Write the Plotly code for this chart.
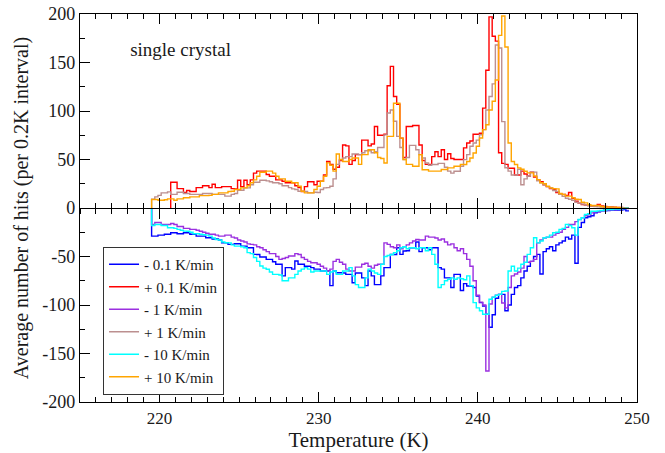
import numpy as np
import plotly.graph_objects as go

# Histogram bins: 0.2 K wide, left edges from 219.5 K to 249.3 K
BIN_START = 219.5
BIN_WIDTH = 0.2

# Average hits per 0.2 K interval (heating rates positive, cooling rates negative)
minus_0p1 = [
    -29, -29, -28, -28, -27,
    -27, -25.5, -25.5, -26.5, -26.5,
    -25.5, -25.5, -27, -27, -29,
    -29, -29, -30.7, -30.7, -32,
    -32, -33, -35.8, -35.8, -37.5,
    -37.5, -36.8, -36.8, -39.3, -39.3,
    -41, -41, -47.8, -48, -50.5,
    -50.5, -53, -53, -55.4, -58,
    -58, -70, -61.5, -61.5, -63,
    -54.7, -58, -58, -60, -60,
    -61.5, -63, -63, -65, -65,
    -65, -80, -65, -66.7, -66.7,
    -67, -68.4, -68.4, -77, -67,
    -67, -72, -80, -65, -70,
    -79, -79, -70, -61.5, -61.5,
    -48, -48, -41, -47.8, -44.4,
    -44, -41, -41, -35, -45,
    -41, -41, -43, -41, -41,
    -61.5, -63, -72, -72, -82,
    -68.4, -68.4, -85, -78, -80.4,
    -80.4, -82, -90.7, -97.5, -101,
    -109.5, -123, -110, -93, -89,
    -89, -106, -100, -89, -82,
    -80, -72, -65, -60, -55,
    -50, -47.8, -68, -45, -42,
    -40, -44, -38, -36, -34,
    -30, -32, -28, -57, -20,
    -15, -10, -9, -8, -5,
    -4, -3, -3, -2.5, -2,
    -2, -2, -2, -1.5, -3,
]

plus_0p1 = [
    None, None, None, None, None,
    None, 26.5, 26.5, 20, 20,
    16, 18, 17, 17, 21,
    21, 23, 23, 21, 24.5,
    21, 21, 22, 22, 22,
    20, 19.7, 28.6, 22, 28.6,
    24, 29, 36, 38, 38,
    38, 34.5, 32.7, 32.7, 29,
    29, 27.6, 26, 26, 26,
    23, 21, 17, 22, 27,
    27, 24, 27.6, 27.6, 34,
    48, 45, 40, 42, 49,
    65, 64, 45, 49, 55,
    55, 70, 70, 64, 66,
    84, 75, 75, 76, 126,
    146, 115, 107, 72, 52,
    84, 84, 85, 85, 65,
    49, 45, 45, 53, 58,
    53, 60, 50, 56, 51,
    50, 50, 50, 62, 67,
    69, 76, 76, 77, 103,
    142, 197, 177, 172, 57,
    46, 45, 41, 41, 34,
    34, 38, 35, 33, 37,
    32, 29, 27, 24, 22,
    20, 19, 16, 14, 14,
    13, 16, 10, 7, 5,
    3.6, 3, 2.5, 2, 2,
    3.6, 2, 1.5, 1, 1,
    0.8, 0.6, 0.5, 0.3, 0.2,
]

minus_1 = [
    -17, -15, -15, -17, -17,
    -17, -16, -17, -19, -19,
    -21, -21, -22, -22, -23,
    -24, -25, -26, -27, -27,
    -28, -29, -29, -28, -28,
    -30, -31, -33, -34, -35,
    -37, -37.5, -38, -40, -41,
    -43, -45, -47, -47, -50,
    -53, -52, -51, -49.5, -49.5,
    -47, -48, -51, -53, -55,
    -56.4, -56.4, -58, -60, -62,
    -65, -63, -55, -53, -56,
    -58, -63, -65, -65, -61,
    -61, -58, -57, -60, -62,
    -59, -58, -58, -36, -37.5,
    -40, -41, -38, -42, -40,
    -38, -36, -34, -32.4, -33,
    -33, -29, -30, -30, -31,
    -33, -32, -35, -38, -37,
    -41, -44, -42, -47, -53,
    -60, -75, -90, -97, -100,
    -168, -99, -92, -90, -89,
    -98, -103, -82, -70, -68,
    -66, -62, -50, -56, -55,
    -53, -36, -33, -31, -30,
    -30, -28, -26, -25, -22,
    -20, -17, -17, -14, -12,
    -10, -8, -7, -5, -4,
    -4, -3, -2, -2, -1.5,
    -1.5, -1, -1, -0.5, -0.5,
]

plus_1 = [
    9, 11.5, 13, 15.6, 15.6,
    16.6, 14, 14, 16.3, 16.3,
    15, 15, 14, 14, 14,
    14, 15, 15, 15, 14,
    14, 14, 14, 12.2, 12.2,
    14, 15, 18.3, 18.3, 20.7,
    20.7, 24, 26.6, 26.6, 28.6,
    28.6, 28, 27, 26, 26,
    25, 23, 23, 21, 19.7,
    19, 17.3, 17.3, 17, 15.6,
    15.6, 16.3, 16, 19, 20.7,
    21, 22.4, 30, 45, 49.9,
    51.5, 53, 53, 55.7, 55.7,
    55, 57, 59, 59, 57,
    58, 62.4, 62.4, 75.4, 97.9,
    101, 89.5, 73.8, 62.4, 50,
    52, 64.6, 64.6, 60, 55,
    51.5, 46.4, 44, 44.8, 44.8,
    46, 46, 42, 38, 36,
    37.9, 37.9, 43, 49.9, 55,
    63.6, 67, 70, 75.5, 80.8,
    101, 115, 128, 168, 165,
    89, 41.5, 38, 34, 34,
    40, 24, 30, 33, 37,
    37, 28, 26, 24, 22,
    20.7, 18, 17, 14, 12,
    10, 9, 8, 6, 5,
    4, 3, 2.5, 2, 1.5,
    1.2, 1, 0.8, 0.6, 0.5,
    0.4, 0.3, 0.2, 0.2, 0.1,
]

minus_10 = [
    -18, -17, -17, -18, -18,
    -20.4, -20.4, -21, -22, -23,
    -23.8, -24, -25, -26.6, -26.6,
    -27, -27.5, -28, -29, -31,
    -32.5, -33, -35, -35.8, -36,
    -38, -39.3, -39.3, -40, -41,
    -46, -47, -51, -55, -59.8,
    -62, -63.2, -66, -68.4, -68.4,
    -69, -75, -75, -72, -72,
    -68.4, -65, -63, -61.5, -63,
    -66, -65, -65, -65, -65,
    -68.4, -66, -65, -68.4, -68.4,
    -65, -65, -61.5, -70, -79,
    -82, -82, -72, -63, -65,
    -67, -68.4, -58, -50, -49,
    -48, -46, -44, -41, -40,
    -42, -41, -41, -42, -41,
    -41, -44, -41, -47.8, -58,
    -82, -79, -75, -73.5, -72,
    -73.5, -72, -73, -74, -70,
    -80, -97.5, -103, -106, -109.5,
    -109.5, -94, -92, -90, -89,
    -86, -85.5, -65, -60, -65,
    -62, -58, -56, -47.8, -41,
    -30.7, -36, -34, -30.7, -30,
    -28, -25.5, -25, -22, -21,
    -16.9, -18, -20.4, -28, -11.8,
    -10, -6.7, -6, -3.3, -3.3,
    -3, -2.5, -2, -1.5, -1.5,
    -1.2, -1, -0.8, -0.5, -0.3,
]

plus_10 = [
    8.7, 8.7, 8, 8, 8.5,
    9.4, 9.4, 8, 9.4, 9.4,
    10.5, 10.5, 11.5, 11.5, 11.5,
    12.8, 12.8, 12.8, 13, 14,
    14, 15.6, 15.6, 15.6, 17,
    17.3, 19, 19, 20.7, 20.7,
    23, 26, 29, 32.7, 36.8,
    36.8, 38, 38, 36, 32.7,
    30, 30, 27.6, 27.6, 26,
    26, 22.4, 17.3, 15.6, 15.6,
    15.6, 19, 22.4, 27.6, 32.7,
    46.5, 44, 38, 55.7, 50,
    48, 48, 50, 51.5, 51.5,
    45, 55, 55, 60, 60,
    57, 52, 51, 46.4, 73.8,
    73.8, 108, 108, 72, 50,
    45, 45, 43, 43, 55,
    39.4, 39.4, 38, 38, 38,
    38, 39.7, 39.7, 41.4, 41.4,
    43, 43, 44.8, 44.8, 48,
    51.6, 56.7, 63.6, 72.2, 80.8,
    85.9, 101, 110, 132, 178,
    198, 166, 67, 48, 44.8,
    41.4, 40, 37.9, 36.2, 36.2,
    33, 29.3, 26, 25, 22.4,
    20.7, 20, 19.7, 15, 13.9,
    12.2, 12.2, 10.5, 9, 8.7,
    6, 5.3, 3.5, 2.6, 2.6,
    2.6, 1.5, 1, 1, 0.9,
    0.9, 0.5, 0.3, 0.2, 0.1,
]

series_names = ["- 0.1 K/min", "+ 0.1 K/min", "- 1 K/min",
                "+ 1 K/min", "- 10 K/min", "+ 10 K/min"]
series_values = [minus_0p1, plus_0p1, minus_1, plus_1, minus_10, plus_10]
series_colors = ["#0000ff", "#ff0000", "#9b30e0", "#bc8f8f", "#00ffff", "#ffa500"]
# which x axis each run is drawn against (all share the same temperature range)
series_xaxes = ["x", "x2", "x3", "x2", "x3", "x2"]

y_tick_values = [-200, -150, -100, -50, 0, 50, 100, 150, 200]
y_tick_labels = ["-200", "-150", "-100", "-50", "0", "50", "100", "150", "200"]

FONT = "Liberation Serif, Times New Roman, DejaVu Serif, serif"
INK = "#1a1a1a"


def step_xy(values):
    """Step outline of a histogram: rises from zero at its first filled bin."""
    n = len(values)
    edges = BIN_START + BIN_WIDTH * np.arange(n + 1)
    first = next(i for i, v in enumerate(values) if v is not None)
    xs = [edges[first]] + list(edges[first:])
    ys = [0] + list(values[first:]) + [values[-1]]
    return xs, ys


fig = go.Figure()
for name, vals, color, xa in zip(series_names, series_values, series_colors, series_xaxes):
    x, y = step_xy(vals)
    fig.add_trace(go.Scatter(
        x=x, y=y, name=name, mode="lines", xaxis=xa, yaxis="y",
        line=dict(color=color, width=1.4, shape="hv"),
    ))

major = dict(ticklen=10, tickwidth=1.3, tickcolor="black")
x_minor = dict(ticklen=5, dtick=1, tick0=215, tickcolor="black", tickwidth=1.1)
x_range = dict(range=[215, 250], tick0=220, dtick=10)

fig.update_layout(
    width=665, height=453,
    margin=dict(l=80, r=28, t=14, b=51),
    paper_bgcolor="white", plot_bgcolor="white",
    font=dict(family=FONT, color=INK),
    title=dict(text="single crystal", x=0.09, y=0.91, xref="paper", yref="paper",
               xanchor="left", yanchor="middle",
               font=dict(family=FONT, size=19, color=INK)),
    showlegend=True,
    legend=dict(
        x=0.041, y=0.40, xanchor="left", yanchor="top",
        bgcolor="white", bordercolor="#333", borderwidth=1.2,
        font=dict(family=FONT, size=15, color=INK),
        tracegroupgap=0, itemwidth=30,
    ),
    xaxis=dict(
        **x_range, showline=True, linecolor="black", linewidth=1.4, mirror="ticks",
        ticks="inside", **major, minor=dict(ticks="inside", **x_minor),
        showgrid=False, zeroline=False, automargin=False,
        tickfont=dict(family=FONT, size=17, color=INK),
        title=dict(text="Temperature (K)",
                   font=dict(family=FONT, size=21, color=INK), standoff=2),
    ),
    # the zero line: one axis ticked downward, one ticked upward
    xaxis2=dict(
        **x_range, overlaying="x", matches="x", anchor="free", position=0.5, side="bottom",
        showline=True, linecolor="black", linewidth=1.4,
        ticks="outside", **major, minor=dict(ticks="outside", **x_minor),
        showticklabels=False, showgrid=False, zeroline=False, automargin=False,
    ),
    xaxis3=dict(
        **x_range, overlaying="x", matches="x", anchor="free", position=0.5, side="bottom",
        showline=False,
        ticks="inside", **major, minor=dict(ticks="inside", **x_minor),
        showticklabels=False, showgrid=False, zeroline=False, automargin=False,
    ),
    yaxis=dict(
        range=[-200, 200], anchor="x",
        tickvals=y_tick_values, ticktext=y_tick_labels,
        showline=True, linecolor="black", linewidth=1.4, mirror=True,
        ticks="inside", **major,
        minor=dict(ticks="inside", ticklen=5, dtick=25, tick0=0,
                   tickcolor="black", tickwidth=1.1),
        showgrid=False, zeroline=False, automargin=False,
        tickfont=dict(family=FONT, size=18, color=INK),
        title=dict(text="Average number of hits (per 0.2K interval)",
                   font=dict(family=FONT, size=20, color=INK), standoff=8),
    ),
)

fig.write_html("out.html")
